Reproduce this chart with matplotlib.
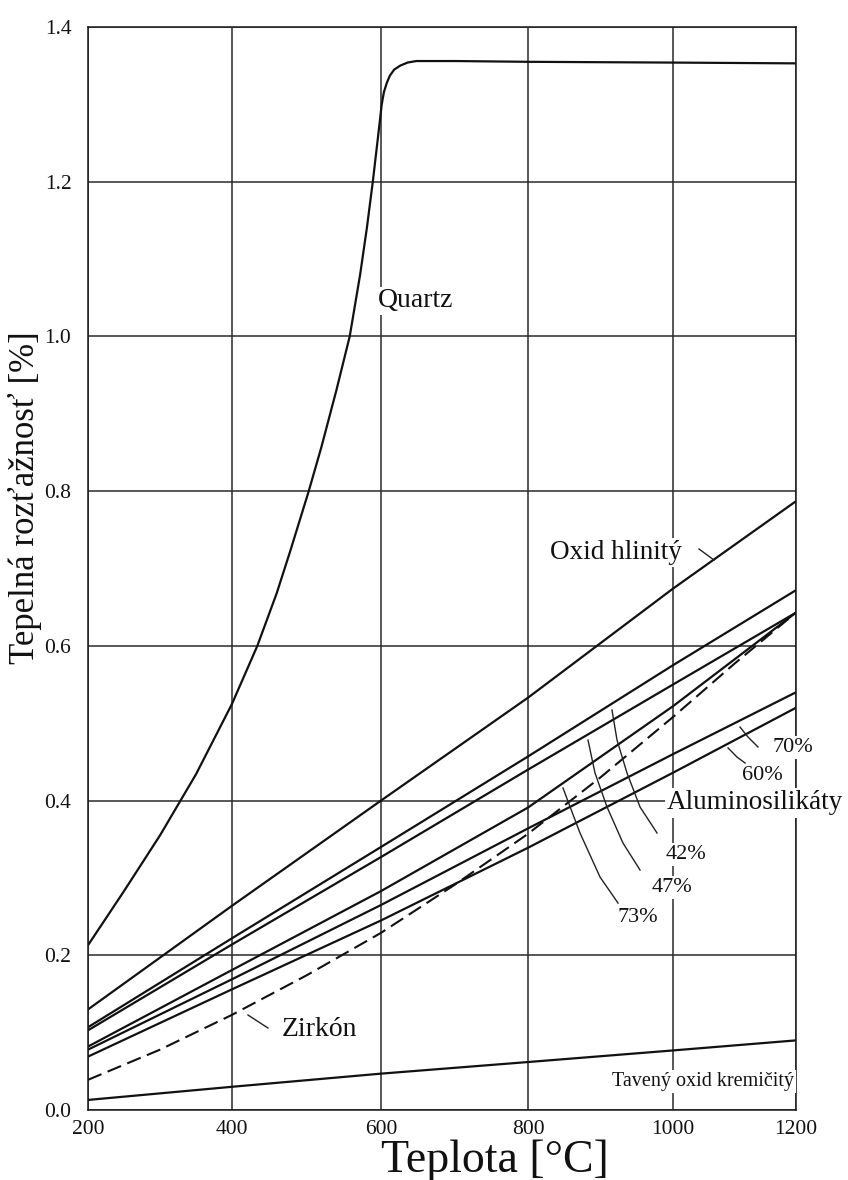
import numpy as np
import matplotlib
matplotlib.use("Agg")
import matplotlib.pyplot as plt

plt.rcParams['font.family'] = ['Liberation Serif', 'DejaVu Serif']

# ---------------- data ----------------
temps = [200, 400, 600, 800, 1000, 1200]
x_ticks = [200, 400, 600, 800, 1000, 1200]
y_ticks = [0.0, 0.2, 0.4, 0.6, 0.8, 1.0, 1.2, 1.4]

quartz_t = [200, 250, 300, 350, 400, 434, 460, 478, 503, 520, 540, 558, 572,
            581, 589, 596, 601, 604, 608, 612, 618, 626, 636, 648, 700, 800,
            1000, 1200]
quartz_v = [0.213, 0.283, 0.355, 0.434, 0.525, 0.600, 0.668, 0.722, 0.800,
            0.857, 0.930, 1.000, 1.080, 1.140, 1.200, 1.258, 1.300, 1.316,
            1.328, 1.337, 1.345, 1.350, 1.354, 1.356, 1.356, 1.355, 1.354, 1.353]

oxid_hlinity = [0.130, 0.264, 0.400, 0.533, 0.674, 0.787]
al_42 = [0.107, 0.222, 0.340, 0.457, 0.575, 0.672]
al_47 = [0.103, 0.214, 0.327, 0.440, 0.550, 0.643]
al_73 = [0.082, 0.181, 0.283, 0.391, 0.522, 0.643]
al_70 = [0.078, 0.169, 0.265, 0.364, 0.460, 0.540]
al_60 = [0.069, 0.156, 0.245, 0.339, 0.436, 0.520]

zirkon_t = [200, 300, 400, 500, 600, 700, 800, 900, 1000, 1100, 1200]
zirkon_v = [0.039, 0.078, 0.123, 0.174, 0.229, 0.291, 0.357, 0.430, 0.508, 0.577, 0.643]

taveny = [0.013, 0.030, 0.047, 0.062, 0.077, 0.090]

# horizontal axis of the scanned chart is not evenly spaced: grid offsets
grid_offsets = [0, 144, 293, 440, 585, 708]


def fwd(x):
    return np.interp(x, x_ticks, grid_offsets)


def inv(y):
    return np.interp(y, grid_offsets, x_ticks)


# ---------------- figure ----------------
fig = plt.figure(figsize=(8.48, 11.8), dpi=100)
ax = fig.add_axes([88 / 848, 1 - 1110 / 1180, 708 / 848, 1083 / 1180])
ax.set_xscale('function', functions=(fwd, inv))
ax.set_xlim(200, 1200)
ax.set_ylim(0, 1.4)
ax.set_xticks(x_ticks)
ax.set_xticklabels([str(t) for t in x_ticks])
ax.set_yticks(y_ticks)
ax.set_yticklabels([f"{v:.1f}" for v in y_ticks])
ax.tick_params(length=0, labelsize=15.5, colors='#111')
ax.tick_params(axis='y', pad=12)
ax.tick_params(axis='x', pad=7)
ax.grid(True, color='#2a2a2a', lw=1.1)
ax.set_axisbelow(True)
for s in ax.spines.values():
    s.set_color('#1a1a1a')
    s.set_linewidth(1.1)

lc = '#111111'
lw = 1.6
ax.plot(quartz_t, quartz_v, color=lc, lw=lw)
ax.plot(temps, oxid_hlinity, color=lc, lw=lw)
for s in (al_42, al_47, al_73, al_70, al_60):
    ax.plot(temps, s, color=lc, lw=lw)
ax.plot(zirkon_t, zirkon_v, color=lc, lw=1.5, dashes=(7, 3.2))
ax.plot(temps, taveny, color=lc, lw=lw)

# ---------------- annotations ----------------
box = dict(facecolor='white', edgecolor='none', pad=1.5)
tk = dict(transform=ax.transAxes, color='#111', zorder=6, bbox=box)

ax.text(0.4096, 0.747, 'Quartz', fontsize=20, ha='left', va='center', **tk)
ax.text(0.6525, 0.515, 'Oxid hlinitý', fontsize=19.5, ha='left', va='center', **tk)
ax.text(0.274, 0.0739, 'Zirkón', fontsize=20, ha='left', va='center', **tk)
ax.text(0.818, 0.2835, 'Aluminosilikáty', fontsize=19.5, ha='left', va='center', **tk)
ax.text(0.740, 0.0259, 'Tavený oxid kremičitý', fontsize=14.5, ha='left', va='center', **tk)
ax.text(0.9958, 0.3343, '70%', fontsize=16, ha='center', va='center', **tk)
ax.text(0.952, 0.3093, '60%', fontsize=16, ha='center', va='center', **tk)
ax.text(0.8446, 0.2355, '42%', fontsize=16, ha='center', va='center', **tk)
ax.text(0.8249, 0.2059, '47%', fontsize=16, ha='center', va='center', **tk)
ax.text(0.7768, 0.1773, '73%', fontsize=16, ha='center', va='center', **tk)

leaders = [
    [(0.7401, 0.3693), (0.7472, 0.3416), (0.7613, 0.3112), (0.7797, 0.2798), (0.8037, 0.2558)],
    [(0.7062, 0.3416), (0.7161, 0.3112), (0.7331, 0.2798), (0.7556, 0.2465), (0.7797, 0.2216)],
    [(0.6709, 0.2973), (0.6949, 0.2558), (0.7232, 0.2151), (0.7486, 0.1911)],
    [(0.9209, 0.3536), (0.9322, 0.3444), (0.9463, 0.3352)],
    [(0.9040, 0.3343), (0.9167, 0.3259), (0.9280, 0.3204)],
    [(0.8630, 0.5180), (0.8842, 0.5078)],
    [(0.2260, 0.0877), (0.2542, 0.0757)],
]
for pts in leaders:
    xs, ys = zip(*pts)
    ax.plot(xs, ys, transform=ax.transAxes, color='#222', lw=1.0, zorder=5)

ax.set_xlabel('Teplota [°C]', fontsize=33, color='#111')
ax.xaxis.set_label_coords(0.575, -0.0575)
ax.xaxis.label.set_verticalalignment('baseline')
ax.set_ylabel('Tepelná rozťažnosť [%]', fontsize=25, color='#111')
ax.yaxis.set_label_coords(-0.089, 0.565)
ax.yaxis.label.set_verticalalignment('center')

fig.savefig('out.png', dpi=100, facecolor='white')
